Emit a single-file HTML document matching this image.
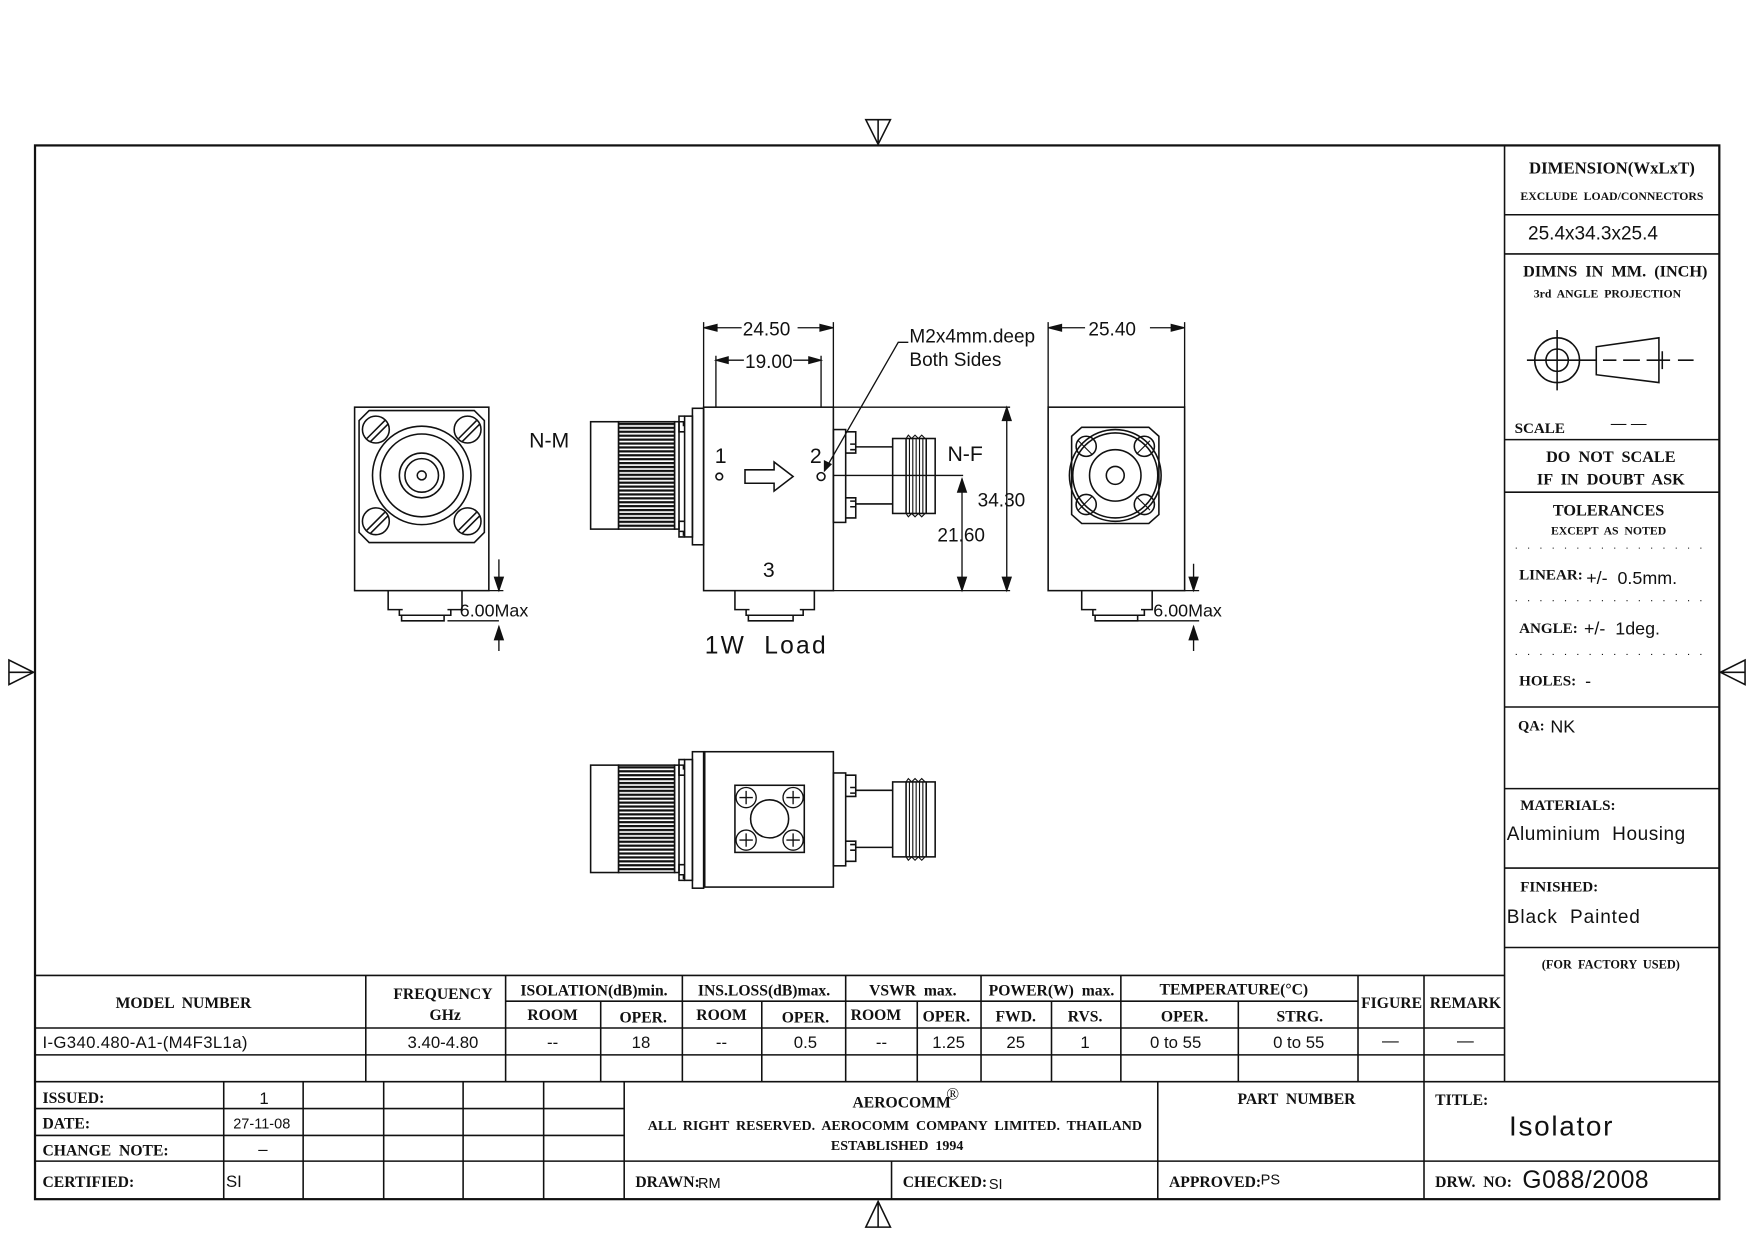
<!DOCTYPE html>
<html><head><meta charset="utf-8"><style>html,body{margin:0;padding:0;background:#fff}svg{display:block}text{white-space:pre}</style></head>
<body>
<svg xmlns="http://www.w3.org/2000/svg" xml:space="preserve" width="1754" height="1240" viewBox="0 0 1568 1108.5" preserveAspectRatio="none">
<defs>
<pattern id="knurl" x="0" y="0" width="3.5" height="3.5" patternUnits="userSpaceOnUse"><rect width="3.5" height="3.5" fill="#fff"/><rect width="3.5" height="2" fill="#111"/></pattern>
</defs>
<g fill="none" stroke="#111" stroke-width="1.4">
<rect x="31.3" y="130" width="1505.7" height="942" stroke-width="2"/>
<path d="M774 107 L796 107 L785 129 Z M785 107 L785 129"/>
<path d="M774 1097 L796 1097 L785 1074 Z M785 1097 L785 1074"/>
<path d="M8 590 L8 612 L30 601 Z M8 601 L30 601"/>
<path d="M1560 590 L1560 612 L1538 601 Z M1560 601 L1538 601"/>
<path d="M1345 130 V967 M1345 192 H1537 M1345 227 H1537 M1345 393 H1537 M1345 440 H1537 M1345 632 H1537 M1345 705 H1537 M1345 776 H1537 M1345 847 H1537"/>
<path d="M1355 490 H1530 M1355 537 H1530 M1355 585 H1530" stroke-dasharray="1 10" stroke-width="1"/>
<circle cx="1392" cy="322" r="20"/><circle cx="1392" cy="322" r="10"/>
<path d="M1392 295 V349 M1365 322 H1420 M1387 322 H1397 M1392 317 V327 M1420 322 H1427"/>
<path d="M1427 310 L1483 302 L1483 342 L1427 335 Z"/>
<path d="M1433 322 H1445 M1451 322 H1466 M1472 322 H1493 M1500 322 H1514 M1486 314 V330"/>
<path d="M31 872 H1345 M452 895 H1214 M31 919 H1345 M31 943 H1345 M31 967 H1537" />
<path d="M327 872 V967 M452 872 V967 M537 895 V967 M610 872 V967 M681 895 V967 M756 872 V967 M820 895 V967 M877 872 V967 M940 895 V967 M1002 872 V967 M1107 895 V967 M1214 872 V967 M1273 872 V967"/>
<path d="M31 991 H558 M31 1015 H558 M31 1038 H1537"/>
<path d="M200 967 V1072 M271 967 V1072 M343 967 V1072 M414 967 V1072 M486 967 V1072 M558 967 V1072 M1035 967 V1072 M797 1038 V1072 M1273 967 V1072"/>

<!-- LEFT VIEW -->
<rect x="317" y="364" width="120" height="164"/>
<path d="M330 367 H424 L433 376 V476 L424 485 H330 L321 476 V376 Z"/>
<circle cx="377" cy="425" r="44"/><circle cx="377" cy="425" r="37"/><circle cx="377" cy="425" r="20"/><circle cx="377" cy="425" r="15"/><circle cx="377" cy="425" r="4"/>
<g><circle cx="336" cy="384" r="12"/><path d="M328 392 L344 376 M331 395 L347 379"/></g>
<g><circle cx="418" cy="384" r="12"/><path d="M410 392 L426 376 M413 395 L429 379"/></g>
<g><circle cx="336" cy="466" r="12"/><path d="M328 474 L344 458 M331 477 L347 461"/></g>
<g><circle cx="418" cy="466" r="12"/><path d="M410 474 L426 458 M413 477 L429 461"/></g>
<path d="M347 528 V545 H357 V550 H403 V545 H413 V528 M347 545 H360 M400 545 H413 M359 550 V555 H397 V550"/>
<path d="M446 500 V528 M446 582 V560 M400 555 H446 M437 528 H450" stroke-width="1.2"/>
<path d="M442 516 L446 528 L450 516 Z M442 572 L446 560 L450 572 Z" fill="#111" stroke-width="1"/>

<!-- MAIN VIEW -->
<rect x="629" y="364" width="116" height="164"/>
<g id="lc">
<rect x="619" y="365" width="10" height="122"/>
<rect x="612" y="372" width="7" height="108"/>
<path d="M612 372 H607 V386 H612 M612 466 H607 V480 H612 M607 377 H611 V381 M607 475 H611 V479"/>
<rect x="603" y="377" width="4" height="96"/>
<rect x="528" y="377" width="25" height="96"/>
<rect x="553" y="377" width="50" height="96" fill="url(#knurl)"/>
</g>
<use href="#lc" transform="translate(0 307)"/>
<g id="rc">
<rect x="745" y="384" width="11" height="83"/>
<path d="M756 386 H765 V405 H756 M756 445 H765 V463 H756 M760 397 H765 V402 H760 M760 448 H765 V453 H760"/>
<path d="M765 399.5 H798 M765 450.5 H798"/>
<rect x="798" y="392" width="38" height="67"/>
<path d="M810 392 V459 M828 392 V459"/>
<path d="M810 392 L812 389 L815 392 L818 389 L821 392 L824 389 L827 392 M810 459 L812 462 L815 459 L818 462 L821 459 L824 462 L827 459 M813 392 V459 M816 392 V459 M819 392 V459 M822 392 V459 M825 392 V459" stroke-width="1"/>
</g>
<use href="#rc" transform="translate(0 307)"/>
<circle cx="643" cy="426" r="3"/><circle cx="734" cy="426" r="3.5"/>
<path d="M666 420 H692 V413 L709 426 L692 439 V432 H666 Z"/>
<path d="M657 528 V545 H667 V550 H718 V545 H728 V528 M657 545 H670 M715 545 H728 M669 550 V555 H709 V550"/>
<path d="M745 425 H861 M745 528 H903 M745 364 H903" stroke-width="1.2"/>
<path d="M860 428 V528 M900 364 V528" stroke-width="1.2"/>
<path d="M856 440 L860 428 L864 440 Z M856 516 L860 528 L864 516 Z M896 376 L900 364 L904 376 Z M896 516 L900 528 L904 516 Z" fill="#111" stroke-width="1"/>
<path d="M629 288 V364 M745 288 V364 M629 293 H663 M713 293 H745" stroke-width="1.2"/>
<path d="M641 290 L629 293 L641 296 Z M733 290 L745 293 L733 296 Z" fill="#111" stroke-width="1"/>
<path d="M640 318 V364 M734 318 V364 M640 322 H665 M709 322 H734" stroke-width="1.2"/>
<path d="M651 319 L640 322 L651 325 Z M723 319 L734 322 L723 325 Z" fill="#111" stroke-width="1"/>
<path d="M812 306 L803 306 L737 421" stroke-width="1.2"/>
<path d="M737 421 L737 412 L743 415 Z" fill="#111" stroke-width="1"/>

<!-- RIGHT VIEW -->
<rect x="937" y="364" width="122" height="164"/>
<path d="M967 382 H1027 L1036 390 V460 L1027 468 H967 L958 460 V390 Z"/>
<circle cx="997" cy="425" r="41"/><circle cx="997" cy="425" r="38"/><circle cx="997" cy="425" r="23"/><circle cx="997" cy="425" r="8"/>
<circle cx="971" cy="399" r="9"/><circle cx="1023" cy="399" r="9"/><circle cx="971" cy="451" r="9"/><circle cx="1023" cy="451" r="9"/>
<path d="M964 394 L976 406 M1016 406 L1028 394 M964 456 L976 444 M1016 444 L1028 456" stroke-width="1"/>
<path d="M937 288 V364 M1059 288 V364 M937 293 H970 M1028 293 H1059" stroke-width="1.2"/>
<path d="M949 290 L937 293 L949 296 Z M1047 290 L1059 293 L1047 296 Z" fill="#111" stroke-width="1"/>
<path d="M967 528 V545 H977 V550 H1023 V545 H1030 V528 M967 545 H980 M1020 545 H1030 M979 550 V555 H1017 V550"/>
<path d="M1067 504 V528 M1067 582 V560 M1017 555 H1072 M1059 528 H1072" stroke-width="1.2"/>
<path d="M1063 516 L1067 528 L1071 516 Z M1063 572 L1067 560 L1071 572 Z" fill="#111" stroke-width="1"/>

<!-- BOTTOM VIEW -->
<rect x="630" y="672" width="115" height="121"/>
<rect x="657" y="702" width="62" height="60"/>
<circle cx="688" cy="732" r="17"/>
<g stroke-width="1.2">
<circle cx="667" cy="713" r="9"/><path d="M661 713 H673 M667 707 V719"/>
<circle cx="709" cy="713" r="9"/><path d="M703 713 H715 M709 707 V719"/>
<circle cx="667" cy="751" r="9"/><path d="M661 751 H673 M667 745 V757"/>
<circle cx="709" cy="751" r="9"/><path d="M703 751 H715 M709 745 V757"/>
</g>
</g>

<g font-family="Liberation Sans, sans-serif" fill="#111">
<g font-size="19">
<text x="473" y="400">N-M</text>
<text x="847" y="412">N-F</text>
<text x="639" y="414">1</text>
<text x="724" y="414">2</text>
<text x="682" y="516">3</text>
<text x="664" y="300" font-size="17">24.50</text>
<text x="666" y="329" font-size="17">19.00</text>
<text x="973" y="300" font-size="17">25.40</text>
<text x="874" y="453" font-size="17">34.30</text>
<text x="838" y="484" font-size="17">21.60</text>
<text x="813" y="306" font-size="17">M2x4mm.deep</text>
<text x="813" y="327" font-size="17">Both Sides</text>
<text x="411" y="551" font-size="16">6.00Max</text>
<text x="1031" y="551" font-size="16">6.00Max</text>
<text x="630" y="584" font-size="22" letter-spacing="2">1W  Load</text>
</g>
</g>

<g font-family="Liberation Serif, serif" font-weight="bold" fill="#111">
<text x="1441" y="155" font-size="15" text-anchor="middle">DIMENSION(WxLxT)</text>
<text x="1441" y="179" font-size="10.5" text-anchor="middle">EXCLUDE  LOAD/CONNECTORS</text>
<text x="1444" y="247" font-size="14.5" text-anchor="middle">DIMNS  IN  MM.  (INCH)</text>
<text x="1437" y="266" font-size="10.5" text-anchor="middle">3rd  ANGLE  PROJECTION</text>
<text x="1354" y="387" font-size="13.5">SCALE</text>
<text x="1440" y="413" font-size="14.5" text-anchor="middle">DO  NOT  SCALE</text>
<text x="1440" y="433" font-size="14.5" text-anchor="middle">IF  IN  DOUBT  ASK</text>
<text x="1438" y="461" font-size="14.5" text-anchor="middle">TOLERANCES</text>
<text x="1438" y="478" font-size="10.5" text-anchor="middle">EXCEPT  AS  NOTED</text>
<text x="1358" y="518" font-size="13.5">LINEAR:</text>
<text x="1358" y="566" font-size="13.5">ANGLE:</text>
<text x="1358" y="613" font-size="13.5">HOLES:</text>
<text x="1357" y="653" font-size="13">QA:</text>
<text x="1359" y="724" font-size="13.5">MATERIALS:</text>
<text x="1359" y="797" font-size="13.5">FINISHED:</text>
<text x="1440" y="866" font-size="11" text-anchor="middle">(FOR  FACTORY  USED)</text>

<g font-size="14" text-anchor="middle">
<text x="164" y="901">MODEL  NUMBER</text>
<text x="396" y="893">FREQUENCY</text>
<text x="398" y="912">GHz</text>
<text x="531" y="890">ISOLATION(dB)min.</text>
<text x="683" y="890">INS.LOSS(dB)max.</text>
<text x="816" y="890">VSWR  max.</text>
<text x="940" y="890">POWER(W)  max.</text>
<text x="1103" y="889">TEMPERATURE(°C)</text>
<text x="1244" y="901">FIGURE</text>
<text x="1310" y="901">REMARK</text>
<text x="494" y="912">ROOM</text>
<text x="575" y="914">OPER.</text>
<text x="645" y="912">ROOM</text>
<text x="720" y="914">OPER.</text>
<text x="783" y="912">ROOM</text>
<text x="846" y="913">OPER.</text>
<text x="908" y="913">FWD.</text>
<text x="970" y="913">RVS.</text>
<text x="1059" y="913">OPER.</text>
<text x="1162" y="913">STRG.</text>
<text x="806" y="990">AEROCOMM</text>
<text x="800" y="1010" font-size="12.5">ALL  RIGHT  RESERVED.  AEROCOMM  COMPANY  LIMITED.  THAILAND</text>
<text x="802" y="1028" font-size="12.5">ESTABLISHED  1994</text>
<text x="1159" y="987">PART  NUMBER</text>
</g>
<text x="846" y="983" font-size="15" font-weight="normal">®</text>
<g font-size="14">
<text x="38" y="986">ISSUED:</text>
<text x="38" y="1009">DATE:</text>
<text x="38" y="1033">CHANGE  NOTE:</text>
<text x="38" y="1061">CERTIFIED:</text>
<text x="568" y="1061">DRAWN:</text>
<text x="807" y="1061">CHECKED:</text>
<text x="1045" y="1061">APPROVED:</text>
<text x="1283" y="988">TITLE:</text>
<text x="1283" y="1061">DRW.  NO:</text>
</g>
</g>

<g font-family="Liberation Sans, sans-serif" fill="#111">
<text x="1366" y="214" font-size="17">25.4x34.3x25.4</text>
<text x="1440" y="383" font-size="14">— —</text>
<text x="1418" y="522" font-size="16">+/-  0.5mm.</text>
<text x="1416" y="567" font-size="16">+/-  1deg.</text>
<text x="1417" y="614" font-size="16">-</text>
<text x="1386" y="655" font-size="16">NK</text>
<text x="1347" y="751" font-size="17" letter-spacing="0.5">Aluminium  Housing</text>
<text x="1347" y="825" font-size="17" letter-spacing="0.8">Black  Painted</text>
<g font-size="15">
<text x="38" y="937" letter-spacing="0.3">I-G340.480-A1-(M4F3L1a)</text>
<g text-anchor="middle">
<text x="396" y="937">3.40-4.80</text>
<text x="494" y="937">--</text>
<text x="573" y="937">18</text>
<text x="645" y="937">--</text>
<text x="720" y="937">0.5</text>
<text x="788" y="937">--</text>
<text x="848" y="937">1.25</text>
<text x="908" y="937">25</text>
<text x="970" y="937">1</text>
<text x="1051" y="937">0 to 55</text>
<text x="1161" y="937">0 to 55</text>
<text x="1243" y="935">—</text>
<text x="1310" y="935">—</text>
<text x="236" y="987">1</text>
<text x="234" y="1009" font-size="13">27-11-08</text>
<text x="235" y="1032">–</text>
</g>
<text x="202" y="1061">SI</text>
<text x="624" y="1062" font-size="13">RM</text>
<text x="884" y="1063" font-size="13">SI</text>
<text x="1127" y="1059" font-size="13">PS</text>
</g>
<text x="1349" y="1015" font-size="25" letter-spacing="1.5">Isolator</text>
<text x="1361" y="1062" font-size="22" letter-spacing="0.5">G088/2008</text>
</g>
</svg>
</body></html>
